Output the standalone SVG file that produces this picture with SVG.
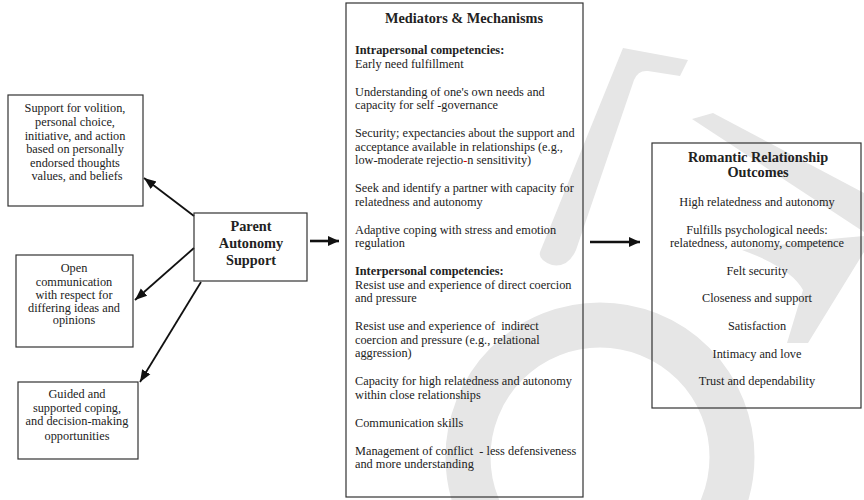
<svg xmlns="http://www.w3.org/2000/svg" width="864" height="500" viewBox="0 0 864 500">
<defs>
<style>
.t{font-family:"Liberation Serif","Times New Roman",serif;font-size:12.3px;fill:#222;white-space:pre;}
.c{text-anchor:middle;}
.b{font-weight:bold;}
.h{font-family:"Liberation Serif","Times New Roman",serif;font-size:14.3px;font-weight:bold;fill:#222;text-anchor:middle;}
.box{fill:none;stroke:#333;stroke-width:1.2;}
.wm{fill:#e6e6e6;stroke:none;}
.ln{stroke:#111;stroke-width:1.8;fill:none;}
.thk{stroke:#111;stroke-width:2.6;fill:none;}
</style>
<marker id="ah" markerUnits="userSpaceOnUse" markerWidth="12" markerHeight="12" viewBox="0 0 10 10" refX="10" refY="5" orient="auto">
<path d="M0,1 L10,5 L0,9 Z" fill="#111"/>
</marker>
<marker id="ahb" markerUnits="userSpaceOnUse" markerWidth="11" markerHeight="12" viewBox="0 0 10 10" refX="10" refY="5" orient="auto">
<path d="M0,0.5 L10,5 L0,9.5 Z" fill="#111"/>
</marker>
</defs>
<rect width="864" height="500" fill="#fff"/>
<g id="watermark">
<circle cx="600" cy="457" r="132" fill="none" stroke="#e6e6e6" stroke-width="45"/>
<path class="wm" d="M623,48 L688,60 L680,76 L648,71 Q638,70 634,80 L576,250 Q568,268 552,265 Q538,260 540,252 Z"/>
<path class="wm" d="M692,119 L713,113 L864,193 L864,232 Z"/>
<path class="wm" d="M864,236 L864,252 L808,343 L787,343 L803,290 C796,276 775,262 742,250 C790,243 830,239 864,236 Z"/>
</g>
<g id="connectors">
<line class="ln" x1="194" y1="216" x2="144" y2="178" marker-end="url(#ah)"/>
<line class="ln" x1="194" y1="248" x2="135" y2="300" marker-end="url(#ah)"/>
<line class="ln" x1="201" y1="282" x2="140" y2="382" marker-end="url(#ah)"/>
<line class="thk" x1="310" y1="241" x2="339" y2="241" marker-end="url(#ahb)"/>
<line class="thk" x1="590" y1="242" x2="640" y2="242" marker-end="url(#ahb)"/>
</g>
<g id="volition">
<rect class="box" x="8" y="95" width="135" height="111"/>
<text class="t c" x="75" y="112">Support for volition,</text>
<text class="t c" x="75" y="126">personal choice,</text>
<text class="t c" x="75" y="139.5">initiative, and action</text>
<text class="t c" x="75" y="153">based on personally</text>
<text class="t c" x="75" y="166.5">endorsed thoughts</text>
<text class="t c" x="77" y="180">values, and beliefs</text>
</g>
<g id="communication">
<rect class="box" x="16" y="255" width="117" height="92"/>
<text class="t c" x="74" y="272">Open</text>
<text class="t c" x="74" y="286">communication</text>
<text class="t c" x="74" y="299">with respect for</text>
<text class="t c" x="74" y="311.5">differing ideas and</text>
<text class="t c" x="74" y="324">opinions</text>
</g>
<g id="coping">
<rect class="box" x="18" y="382" width="120" height="77"/>
<text class="t c" x="77" y="398">Guided and</text>
<text class="t c" x="77" y="412">supported coping,</text>
<text class="t c" x="77" y="425">and decision-making</text>
<text class="t c" x="77" y="440">opportunities</text>
</g>
<g id="parent">
<rect class="box" x="194" y="213" width="113" height="68"/>
<text class="h" x="251" y="231">Parent</text>
<text class="h" x="251" y="248">Autonomy</text>
<text class="h" x="251" y="265">Support</text>
</g>
<g id="mediators">
<rect class="box" x="346" y="3" width="237" height="494"/>
<text class="h" x="464" y="23">Mediators &amp; Mechanisms</text>
<text class="t b" x="355" y="54">Intrapersonal competencies:</text>
<text class="t" x="355" y="67.5">Early need fulfillment</text>
<text class="t" x="355" y="95.5">Understanding of one's own needs and</text>
<text class="t" x="355" y="109">capacity for self -governance</text>
<text class="t" x="355" y="137">Security; expectancies about the support and</text>
<text class="t" x="355" y="150.5">acceptance available in relationships (e.g.,</text>
<text class="t" x="355" y="164">low-moderate rejectio<tspan fill="#d00">-</tspan>n sensitivity)</text>
<text class="t" x="355" y="192">Seek and identify a partner with capacity for</text>
<text class="t" x="355" y="205.5">relatedness and autonomy</text>
<text class="t" x="355" y="233.5">Adaptive coping with stress and emotion</text>
<text class="t" x="355" y="247">regulation</text>
<text class="t b" x="355" y="275">Interpersonal competencies:</text>
<text class="t" x="355" y="288.5">Resist use and experience of direct coercion</text>
<text class="t" x="355" y="302">and pressure</text>
<text class="t" x="355" y="330" xml:space="preserve">Resist use and experience of  indirect</text>
<text class="t" x="355" y="343.5">coercion and pressure (e.g., relational</text>
<text class="t" x="355" y="357">aggression)</text>
<text class="t" x="355" y="385">Capacity for high relatedness and autonomy</text>
<text class="t" x="355" y="398.5">within close relationships</text>
<text class="t" x="355" y="426.5">Communication skills</text>
<text class="t" x="355" y="454.5" xml:space="preserve">Management of conflict  - less defensiveness</text>
<text class="t" x="355" y="468">and more understanding</text>
</g>
<g id="outcomes">
<rect class="box" x="652" y="143" width="209" height="265"/>
<text class="h" x="758" y="162">Romantic Relationship</text>
<text class="h" x="758" y="177">Outcomes</text>
<text class="t c" x="757" y="206">High relatedness and autonomy</text>
<text class="t c" x="757" y="234">Fulfills psychological needs:</text>
<text class="t c" x="757" y="247">relatedness, autonomy, competence</text>
<text class="t c" x="757" y="275">Felt security</text>
<text class="t c" x="757" y="302">Closeness and support</text>
<text class="t c" x="757" y="330">Satisfaction</text>
<text class="t c" x="757" y="358">Intimacy and love</text>
<text class="t c" x="757" y="385">Trust and dependability</text>
</g>
</svg>
